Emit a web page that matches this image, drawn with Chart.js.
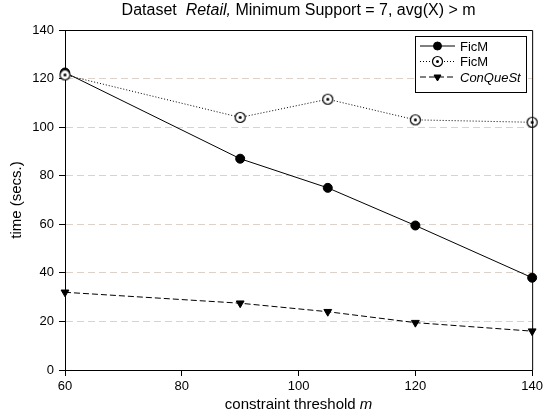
<!DOCTYPE html>
<html>
<head>
<meta charset="utf-8">
<script src="https://cdn.jsdelivr.net/npm/chart.js@4/dist/chart.umd.min.js"></script>
<style>
  body { margin: 0; background: #fff; }
</style>
</head>
<body>
<canvas id="chart" width="546" height="416"></canvas>
<script>
var thresholds = [60, 90, 105, 120, 140];
var ficmSolid = [122.5, 87, 75, 59.5, 38];
var ficmDotted = [121.5, 104, 111.5, 103, 102];
var conquest = [32, 27.5, 24, 19.5, 16];
var seriesNames = ["FicM", "FicM", "ConQueSt"];

var FONT = "'Liberation Sans', Arial, sans-serif";

function toPoints(vals) {
  return thresholds.map(function (x, i) { return { x: x, y: vals[i] }; });
}

// open circle with a dot in the middle
var dotCircle = document.createElement("canvas");
dotCircle.width = 13;
dotCircle.height = 13;
(function () {
  var c = dotCircle.getContext("2d");
  c.fillStyle = "#fff";
  c.strokeStyle = "#000";
  c.lineWidth = 1.2;
  c.beginPath();
  c.arc(6.5, 6.5, 5, 0, Math.PI * 2);
  c.fill();
  c.stroke();
  c.fillStyle = "#000";
  c.beginPath();
  c.arc(6.5, 6.5, 1.5, 0, Math.PI * 2);
  c.fill();
})();

function drawMixed(ctx, parts, cx, y, size) {
  var total = 0;
  parts.forEach(function (p) {
    ctx.font = (p[1] ? "italic " : "") + size + "px " + FONT;
    total += ctx.measureText(p[0]).width;
  });
  var x = cx - total / 2;
  ctx.textAlign = "left";
  ctx.textBaseline = "middle";
  ctx.fillStyle = "#000";
  parts.forEach(function (p) {
    ctx.font = (p[1] ? "italic " : "") + size + "px " + FONT;
    ctx.fillText(p[0], x, y);
    x += ctx.measureText(p[0]).width;
  });
}

var extras = {
  id: "extras",
  afterDraw: function (chart) {
    var ctx = chart.ctx;
    var a = chart.chartArea;
    ctx.save();
    // frame top and right
    ctx.strokeStyle = "#000";
    ctx.lineWidth = 1;
    ctx.beginPath();
    ctx.moveTo(a.left, a.top + 0.5);
    ctx.lineTo(a.right + 0.5, a.top + 0.5);
    ctx.lineTo(a.right + 0.5, a.bottom);
    ctx.stroke();

    // title
    drawMixed(ctx, [["Dataset  ", false], ["Retail,", true], [" Minimum Support = 7, avg(X) > m", false]],
      (a.left + a.right) / 2, 11, 16);
    // x axis title
    drawMixed(ctx, [["constraint threshold ", false], ["m", true]], (a.left + a.right) / 2, 405, 15);

    // legend
    var lx = 415, ly = 36, lw = 111, lh = 56;
    ctx.fillStyle = "#fff";
    ctx.fillRect(lx, ly, lw, lh);
    ctx.strokeStyle = "#000";
    ctx.strokeRect(lx + 0.5, ly + 0.5, lw, lh);
    chart.data.datasets.forEach(function (ds, i) {
      var yy = ly + 10 + i * 15.5;
      ctx.strokeStyle = "#000";
      ctx.lineWidth = 1;
      ctx.setLineDash(ds.borderDash || []);
      ctx.beginPath();
      ctx.moveTo(lx + 5, yy);
      ctx.lineTo(lx + 40, yy);
      ctx.stroke();
      ctx.setLineDash([]);
      Chart.helpers.drawPoint(ctx, {
        pointStyle: ds.pointStyle,
        radius: 4,
        rotation: ds.pointRotation || 0,
        borderWidth: 1
      }, lx + 22.5, yy);
      if (ds.pointStyle !== dotCircle) {
        ctx.fillStyle = "#000";
        ctx.fill();
      }
      ctx.font = (i === 2 ? "italic " : "") + "13px " + FONT;
      ctx.fillStyle = "#000";
      ctx.textAlign = "left";
      ctx.textBaseline = "middle";
      ctx.fillText(ds.label, lx + 45, yy + 1);
    });
    ctx.restore();
  }
};

new Chart(document.getElementById("chart"), {
  type: "line",
  data: {
    datasets: [
      {
        label: seriesNames[0],
        data: toPoints(ficmSolid),
        borderColor: "#000",
        borderWidth: 1,
        pointStyle: "circle",
        pointRadius: 4.5,
        pointBackgroundColor: "#000",
        pointBorderColor: "#000",
        order: 2,
        clip: false
      },
      {
        label: seriesNames[1],
        data: toPoints(ficmDotted),
        borderColor: "#000",
        borderWidth: 1,
        borderDash: [1, 2],
        pointStyle: dotCircle,
        order: 1,
        clip: false
      },
      {
        label: seriesNames[2],
        data: toPoints(conquest),
        borderColor: "#000",
        borderWidth: 1,
        borderDash: [6, 3],
        pointStyle: "triangle",
        pointRotation: 180,
        pointRadius: 4.5,
        pointBackgroundColor: "#000",
        pointBorderColor: "#000",
        order: 3,
        clip: false
      }
    ]
  },
  options: {
    responsive: false,
    animation: false,
    layout: { padding: { top: 30, right: 9, left: 0, bottom: 0 } },
    plugins: {
      legend: { display: false },
      title: { display: false },
      tooltip: { enabled: false }
    },
    scales: {
      x: {
        type: "linear",
        min: 60,
        max: 140,
        ticks: { stepSize: 20, color: "#000", font: { family: FONT, size: 13 }, padding: 3 },
        grid: { drawOnChartArea: false, tickColor: "#000", tickLength: 6 },
        border: { color: "#000", width: 1 },
        afterFit: function (s) { s.height = 46; }
      },
      y: {
        min: 0,
        max: 140,
        ticks: { stepSize: 20, color: "#000", font: { family: FONT, size: 13 }, padding: 5 },
        grid: {
          color: function (c) {
            var v = c.tick ? c.tick.value : 0;
            return (v === 0 || v === 140) ? "rgba(0,0,0,0)" : "#ddd2ca";
          },
          tickColor: "#000",
          tickLength: 6,
          tickBorderDash: []
        },
        border: { color: "#000", width: 1, dash: [7, 4] },
        title: { display: true, text: "time (secs.)", color: "#000", font: { family: FONT, size: 15 }, padding: { top: 8, bottom: 2 } },
        afterFit: function (s) { s.width = 65; }
      }
    }
  },
  plugins: [extras]
});
</script>
</body>
</html>
